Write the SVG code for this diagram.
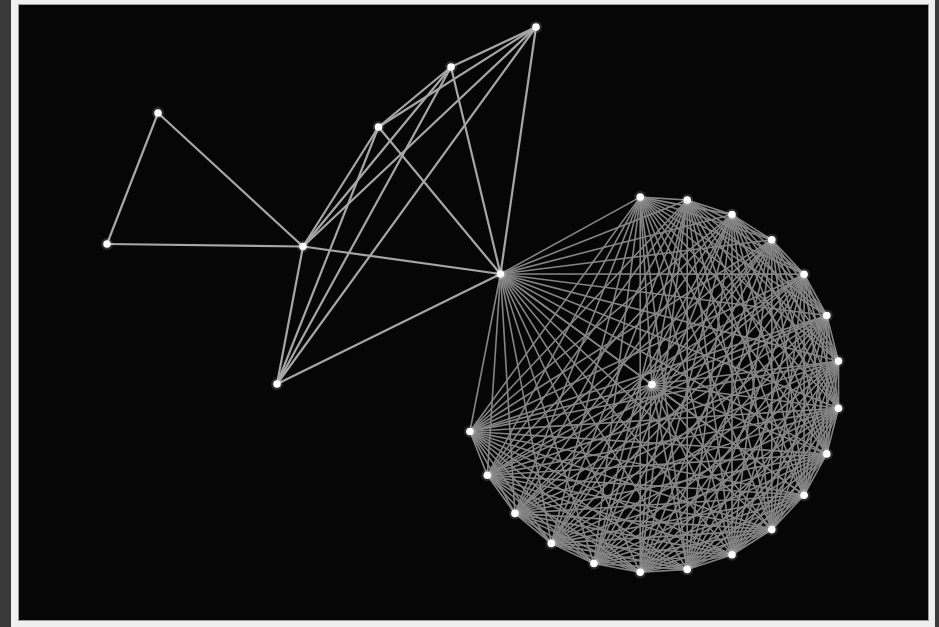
<svg xmlns="http://www.w3.org/2000/svg" width="939" height="627" viewBox="0 0 939 627">
<style>
.e path{stroke:#a6a6a6;stroke-width:2.2;fill:none;stroke-linecap:round}
.e .k{stroke:#858585;stroke-width:1.6}
.n circle{fill:#fff}
.n .h{fill:#fff;fill-opacity:.15}
</style>
<rect x="0" y="0" width="939" height="627" fill="#3a3a3a"/>
<rect x="11" y="0" width="924" height="627" fill="#efefef"/>
<rect x="18.5" y="4.5" width="910" height="616" fill="#060606" stroke="#9a9a9a" stroke-width="1"/>
<g id="connectors" class="e">
<g class="kk">
<path class="k" d="M838.5 361.1L826.8 315.5"/>
<path class="k" d="M838.5 361.1L804.1 274.2"/>
<path class="k" d="M838.5 361.1L771.8 239.8"/>
<path class="k" d="M838.5 361.1L732 214.6"/>
<path class="k" d="M838.5 361.1L687.2 200"/>
<path class="k" d="M838.5 361.1L640.2 197.1"/>
<path class="k" d="M838.5 361.1L500.5 274"/>
<path class="k" d="M838.5 361.1L469.9 431.5"/>
<path class="k" d="M838.5 361.1L487.3 475.3"/>
<path class="k" d="M838.5 361.1L514.9 513.4"/>
<path class="k" d="M838.5 361.1L551.3 543.4"/>
<path class="k" d="M838.5 361.1L593.9 563.5"/>
<path class="k" d="M838.5 361.1L640.2 572.3"/>
<path class="k" d="M838.5 361.1L687.2 569.4"/>
<path class="k" d="M838.5 361.1L732 554.8"/>
<path class="k" d="M838.5 361.1L771.8 529.6"/>
<path class="k" d="M838.5 361.1L804.1 495.2"/>
<path class="k" d="M838.5 361.1L826.8 453.9"/>
<path class="k" d="M838.5 361.1L838.5 408.3"/>
<path class="k" d="M838.5 361.1L652 384.5"/>
<path class="k" d="M826.8 315.5L804.1 274.2"/>
<path class="k" d="M826.8 315.5L771.8 239.8"/>
<path class="k" d="M826.8 315.5L732 214.6"/>
<path class="k" d="M826.8 315.5L687.2 200"/>
<path class="k" d="M826.8 315.5L640.2 197.1"/>
<path class="k" d="M826.8 315.5L500.5 274"/>
<path class="k" d="M826.8 315.5L469.9 431.5"/>
<path class="k" d="M826.8 315.5L487.3 475.3"/>
<path class="k" d="M826.8 315.5L514.9 513.4"/>
<path class="k" d="M826.8 315.5L551.3 543.4"/>
<path class="k" d="M826.8 315.5L593.9 563.5"/>
<path class="k" d="M826.8 315.5L640.2 572.3"/>
<path class="k" d="M826.8 315.5L687.2 569.4"/>
<path class="k" d="M826.8 315.5L732 554.8"/>
<path class="k" d="M826.8 315.5L771.8 529.6"/>
<path class="k" d="M826.8 315.5L804.1 495.2"/>
<path class="k" d="M826.8 315.5L826.8 453.9"/>
<path class="k" d="M826.8 315.5L838.5 408.3"/>
<path class="k" d="M826.8 315.5L652 384.5"/>
<path class="k" d="M804.1 274.2L771.8 239.8"/>
<path class="k" d="M804.1 274.2L732 214.6"/>
<path class="k" d="M804.1 274.2L687.2 200"/>
<path class="k" d="M804.1 274.2L640.2 197.1"/>
<path class="k" d="M804.1 274.2L500.5 274"/>
<path class="k" d="M804.1 274.2L469.9 431.5"/>
<path class="k" d="M804.1 274.2L487.3 475.3"/>
<path class="k" d="M804.1 274.2L514.9 513.4"/>
<path class="k" d="M804.1 274.2L551.3 543.4"/>
<path class="k" d="M804.1 274.2L593.9 563.5"/>
<path class="k" d="M804.1 274.2L640.2 572.3"/>
<path class="k" d="M804.1 274.2L687.2 569.4"/>
<path class="k" d="M804.1 274.2L732 554.8"/>
<path class="k" d="M804.1 274.2L771.8 529.6"/>
<path class="k" d="M804.1 274.2L804.1 495.2"/>
<path class="k" d="M804.1 274.2L826.8 453.9"/>
<path class="k" d="M804.1 274.2L838.5 408.3"/>
<path class="k" d="M804.1 274.2L652 384.5"/>
<path class="k" d="M771.8 239.8L732 214.6"/>
<path class="k" d="M771.8 239.8L687.2 200"/>
<path class="k" d="M771.8 239.8L640.2 197.1"/>
<path class="k" d="M771.8 239.8L500.5 274"/>
<path class="k" d="M771.8 239.8L469.9 431.5"/>
<path class="k" d="M771.8 239.8L487.3 475.3"/>
<path class="k" d="M771.8 239.8L514.9 513.4"/>
<path class="k" d="M771.8 239.8L551.3 543.4"/>
<path class="k" d="M771.8 239.8L593.9 563.5"/>
<path class="k" d="M771.8 239.8L640.2 572.3"/>
<path class="k" d="M771.8 239.8L687.2 569.4"/>
<path class="k" d="M771.8 239.8L732 554.8"/>
<path class="k" d="M771.8 239.8L771.8 529.6"/>
<path class="k" d="M771.8 239.8L804.1 495.2"/>
<path class="k" d="M771.8 239.8L826.8 453.9"/>
<path class="k" d="M771.8 239.8L838.5 408.3"/>
<path class="k" d="M771.8 239.8L652 384.5"/>
<path class="k" d="M732 214.6L687.2 200"/>
<path class="k" d="M732 214.6L640.2 197.1"/>
<path class="k" d="M732 214.6L500.5 274"/>
<path class="k" d="M732 214.6L469.9 431.5"/>
<path class="k" d="M732 214.6L487.3 475.3"/>
<path class="k" d="M732 214.6L514.9 513.4"/>
<path class="k" d="M732 214.6L551.3 543.4"/>
<path class="k" d="M732 214.6L593.9 563.5"/>
<path class="k" d="M732 214.6L640.2 572.3"/>
<path class="k" d="M732 214.6L687.2 569.4"/>
<path class="k" d="M732 214.6L732 554.8"/>
<path class="k" d="M732 214.6L771.8 529.6"/>
<path class="k" d="M732 214.6L804.1 495.2"/>
<path class="k" d="M732 214.6L826.8 453.9"/>
<path class="k" d="M732 214.6L838.5 408.3"/>
<path class="k" d="M732 214.6L652 384.5"/>
<path class="k" d="M687.2 200L640.2 197.1"/>
<path class="k" d="M687.2 200L500.5 274"/>
<path class="k" d="M687.2 200L469.9 431.5"/>
<path class="k" d="M687.2 200L487.3 475.3"/>
<path class="k" d="M687.2 200L514.9 513.4"/>
<path class="k" d="M687.2 200L551.3 543.4"/>
<path class="k" d="M687.2 200L593.9 563.5"/>
<path class="k" d="M687.2 200L640.2 572.3"/>
<path class="k" d="M687.2 200L687.2 569.4"/>
<path class="k" d="M687.2 200L732 554.8"/>
<path class="k" d="M687.2 200L771.8 529.6"/>
<path class="k" d="M687.2 200L804.1 495.2"/>
<path class="k" d="M687.2 200L826.8 453.9"/>
<path class="k" d="M687.2 200L838.5 408.3"/>
<path class="k" d="M687.2 200L652 384.5"/>
<path class="k" d="M640.2 197.1L500.5 274"/>
<path class="k" d="M640.2 197.1L469.9 431.5"/>
<path class="k" d="M640.2 197.1L487.3 475.3"/>
<path class="k" d="M640.2 197.1L514.9 513.4"/>
<path class="k" d="M640.2 197.1L551.3 543.4"/>
<path class="k" d="M640.2 197.1L593.9 563.5"/>
<path class="k" d="M640.2 197.1L640.2 572.3"/>
<path class="k" d="M640.2 197.1L687.2 569.4"/>
<path class="k" d="M640.2 197.1L732 554.8"/>
<path class="k" d="M640.2 197.1L771.8 529.6"/>
<path class="k" d="M640.2 197.1L804.1 495.2"/>
<path class="k" d="M640.2 197.1L826.8 453.9"/>
<path class="k" d="M640.2 197.1L838.5 408.3"/>
<path class="k" d="M640.2 197.1L652 384.5"/>
<path class="k" d="M500.5 274L469.9 431.5"/>
<path class="k" d="M500.5 274L487.3 475.3"/>
<path class="k" d="M500.5 274L514.9 513.4"/>
<path class="k" d="M500.5 274L551.3 543.4"/>
<path class="k" d="M500.5 274L593.9 563.5"/>
<path class="k" d="M500.5 274L640.2 572.3"/>
<path class="k" d="M500.5 274L687.2 569.4"/>
<path class="k" d="M500.5 274L732 554.8"/>
<path class="k" d="M500.5 274L771.8 529.6"/>
<path class="k" d="M500.5 274L804.1 495.2"/>
<path class="k" d="M500.5 274L826.8 453.9"/>
<path class="k" d="M500.5 274L838.5 408.3"/>
<path class="k" d="M500.5 274L652 384.5"/>
<path class="k" d="M469.9 431.5L487.3 475.3"/>
<path class="k" d="M469.9 431.5L514.9 513.4"/>
<path class="k" d="M469.9 431.5L551.3 543.4"/>
<path class="k" d="M469.9 431.5L593.9 563.5"/>
<path class="k" d="M469.9 431.5L640.2 572.3"/>
<path class="k" d="M469.9 431.5L687.2 569.4"/>
<path class="k" d="M469.9 431.5L732 554.8"/>
<path class="k" d="M469.9 431.5L771.8 529.6"/>
<path class="k" d="M469.9 431.5L804.1 495.2"/>
<path class="k" d="M469.9 431.5L826.8 453.9"/>
<path class="k" d="M469.9 431.5L838.5 408.3"/>
<path class="k" d="M469.9 431.5L652 384.5"/>
<path class="k" d="M487.3 475.3L514.9 513.4"/>
<path class="k" d="M487.3 475.3L551.3 543.4"/>
<path class="k" d="M487.3 475.3L593.9 563.5"/>
<path class="k" d="M487.3 475.3L640.2 572.3"/>
<path class="k" d="M487.3 475.3L687.2 569.4"/>
<path class="k" d="M487.3 475.3L732 554.8"/>
<path class="k" d="M487.3 475.3L771.8 529.6"/>
<path class="k" d="M487.3 475.3L804.1 495.2"/>
<path class="k" d="M487.3 475.3L826.8 453.9"/>
<path class="k" d="M487.3 475.3L838.5 408.3"/>
<path class="k" d="M487.3 475.3L652 384.5"/>
<path class="k" d="M514.9 513.4L551.3 543.4"/>
<path class="k" d="M514.9 513.4L593.9 563.5"/>
<path class="k" d="M514.9 513.4L640.2 572.3"/>
<path class="k" d="M514.9 513.4L687.2 569.4"/>
<path class="k" d="M514.9 513.4L732 554.8"/>
<path class="k" d="M514.9 513.4L771.8 529.6"/>
<path class="k" d="M514.9 513.4L804.1 495.2"/>
<path class="k" d="M514.9 513.4L826.8 453.9"/>
<path class="k" d="M514.9 513.4L838.5 408.3"/>
<path class="k" d="M514.9 513.4L652 384.5"/>
<path class="k" d="M551.3 543.4L593.9 563.5"/>
<path class="k" d="M551.3 543.4L640.2 572.3"/>
<path class="k" d="M551.3 543.4L687.2 569.4"/>
<path class="k" d="M551.3 543.4L732 554.8"/>
<path class="k" d="M551.3 543.4L771.8 529.6"/>
<path class="k" d="M551.3 543.4L804.1 495.2"/>
<path class="k" d="M551.3 543.4L826.8 453.9"/>
<path class="k" d="M551.3 543.4L838.5 408.3"/>
<path class="k" d="M551.3 543.4L652 384.5"/>
<path class="k" d="M593.9 563.5L640.2 572.3"/>
<path class="k" d="M593.9 563.5L687.2 569.4"/>
<path class="k" d="M593.9 563.5L732 554.8"/>
<path class="k" d="M593.9 563.5L771.8 529.6"/>
<path class="k" d="M593.9 563.5L804.1 495.2"/>
<path class="k" d="M593.9 563.5L826.8 453.9"/>
<path class="k" d="M593.9 563.5L838.5 408.3"/>
<path class="k" d="M593.9 563.5L652 384.5"/>
<path class="k" d="M640.2 572.3L687.2 569.4"/>
<path class="k" d="M640.2 572.3L732 554.8"/>
<path class="k" d="M640.2 572.3L771.8 529.6"/>
<path class="k" d="M640.2 572.3L804.1 495.2"/>
<path class="k" d="M640.2 572.3L826.8 453.9"/>
<path class="k" d="M640.2 572.3L838.5 408.3"/>
<path class="k" d="M640.2 572.3L652 384.5"/>
<path class="k" d="M687.2 569.4L732 554.8"/>
<path class="k" d="M687.2 569.4L771.8 529.6"/>
<path class="k" d="M687.2 569.4L804.1 495.2"/>
<path class="k" d="M687.2 569.4L826.8 453.9"/>
<path class="k" d="M687.2 569.4L838.5 408.3"/>
<path class="k" d="M687.2 569.4L652 384.5"/>
<path class="k" d="M732 554.8L771.8 529.6"/>
<path class="k" d="M732 554.8L804.1 495.2"/>
<path class="k" d="M732 554.8L826.8 453.9"/>
<path class="k" d="M732 554.8L838.5 408.3"/>
<path class="k" d="M732 554.8L652 384.5"/>
<path class="k" d="M771.8 529.6L804.1 495.2"/>
<path class="k" d="M771.8 529.6L826.8 453.9"/>
<path class="k" d="M771.8 529.6L838.5 408.3"/>
<path class="k" d="M771.8 529.6L652 384.5"/>
<path class="k" d="M804.1 495.2L826.8 453.9"/>
<path class="k" d="M804.1 495.2L838.5 408.3"/>
<path class="k" d="M804.1 495.2L652 384.5"/>
<path class="k" d="M826.8 453.9L838.5 408.3"/>
<path class="k" d="M826.8 453.9L652 384.5"/>
<path class="k" d="M838.5 408.3L652 384.5"/>
</g>
<path d="M158 113L107 244"/>
<path d="M158 113L303 246.5"/>
<path d="M107 244L303 246.5"/>
<path d="M303 246.5L378.5 127"/>
<path d="M303 246.5L451 67"/>
<path d="M303 246.5L536 27"/>
<path d="M303 246.5L500.5 274"/>
<path d="M303 246.5L277 384"/>
<path d="M378.5 127L451 67"/>
<path d="M378.5 127L536 27"/>
<path d="M378.5 127L500.5 274"/>
<path d="M378.5 127L277 384"/>
<path d="M451 67L536 27"/>
<path d="M451 67L500.5 274"/>
<path d="M451 67L277 384"/>
<path d="M536 27L500.5 274"/>
<path d="M536 27L277 384"/>
<path d="M500.5 274L277 384"/>
</g>
<g id="nodeA" class="n"><circle class="h" cx="158" cy="113" r="6"/><circle cx="158" cy="113" r="3.8"/></g>
<g id="nodeB" class="n"><circle class="h" cx="107" cy="244" r="6"/><circle cx="107" cy="244" r="3.8"/></g>
<g id="nodeC" class="n"><circle class="h" cx="303" cy="246.5" r="6"/><circle cx="303" cy="246.5" r="3.8"/></g>
<g id="nodeD" class="n"><circle class="h" cx="378.5" cy="127" r="6"/><circle cx="378.5" cy="127" r="3.8"/></g>
<g id="nodeE" class="n"><circle class="h" cx="451" cy="67" r="6"/><circle cx="451" cy="67" r="3.8"/></g>
<g id="nodeF" class="n"><circle class="h" cx="536" cy="27" r="6"/><circle cx="536" cy="27" r="3.8"/></g>
<g id="nodeG" class="n"><circle class="h" cx="500.5" cy="274" r="6"/><circle cx="500.5" cy="274" r="3.8"/></g>
<g id="nodeH" class="n"><circle class="h" cx="277" cy="384" r="6"/><circle cx="277" cy="384" r="3.8"/></g>
<g id="nodeM" class="n"><circle class="h" cx="652" cy="384.5" r="6"/><circle cx="652" cy="384.5" r="3.8"/></g>
<g id="c0" class="n"><circle class="h" cx="838.5" cy="361.1" r="6"/><circle cx="838.5" cy="361.1" r="3.8"/></g>
<g id="c1" class="n"><circle class="h" cx="826.8" cy="315.5" r="6"/><circle cx="826.8" cy="315.5" r="3.8"/></g>
<g id="c2" class="n"><circle class="h" cx="804.1" cy="274.2" r="6"/><circle cx="804.1" cy="274.2" r="3.8"/></g>
<g id="c3" class="n"><circle class="h" cx="771.8" cy="239.8" r="6"/><circle cx="771.8" cy="239.8" r="3.8"/></g>
<g id="c4" class="n"><circle class="h" cx="732" cy="214.6" r="6"/><circle cx="732" cy="214.6" r="3.8"/></g>
<g id="c5" class="n"><circle class="h" cx="687.2" cy="200" r="6"/><circle cx="687.2" cy="200" r="3.8"/></g>
<g id="c6" class="n"><circle class="h" cx="640.2" cy="197.1" r="6"/><circle cx="640.2" cy="197.1" r="3.8"/></g>
<g id="c13" class="n"><circle class="h" cx="469.9" cy="431.5" r="6"/><circle cx="469.9" cy="431.5" r="3.8"/></g>
<g id="c14" class="n"><circle class="h" cx="487.3" cy="475.3" r="6"/><circle cx="487.3" cy="475.3" r="3.8"/></g>
<g id="c15" class="n"><circle class="h" cx="514.9" cy="513.4" r="6"/><circle cx="514.9" cy="513.4" r="3.8"/></g>
<g id="c16" class="n"><circle class="h" cx="551.3" cy="543.4" r="6"/><circle cx="551.3" cy="543.4" r="3.8"/></g>
<g id="c17" class="n"><circle class="h" cx="593.9" cy="563.5" r="6"/><circle cx="593.9" cy="563.5" r="3.8"/></g>
<g id="c18" class="n"><circle class="h" cx="640.2" cy="572.3" r="6"/><circle cx="640.2" cy="572.3" r="3.8"/></g>
<g id="c19" class="n"><circle class="h" cx="687.2" cy="569.4" r="6"/><circle cx="687.2" cy="569.4" r="3.8"/></g>
<g id="c20" class="n"><circle class="h" cx="732" cy="554.8" r="6"/><circle cx="732" cy="554.8" r="3.8"/></g>
<g id="c21" class="n"><circle class="h" cx="771.8" cy="529.6" r="6"/><circle cx="771.8" cy="529.6" r="3.8"/></g>
<g id="c22" class="n"><circle class="h" cx="804.1" cy="495.2" r="6"/><circle cx="804.1" cy="495.2" r="3.8"/></g>
<g id="c23" class="n"><circle class="h" cx="826.8" cy="453.9" r="6"/><circle cx="826.8" cy="453.9" r="3.8"/></g>
<g id="c24" class="n"><circle class="h" cx="838.5" cy="408.3" r="6"/><circle cx="838.5" cy="408.3" r="3.8"/></g>
</svg>
